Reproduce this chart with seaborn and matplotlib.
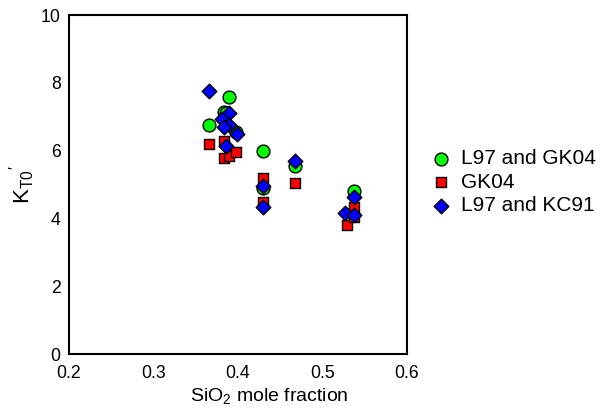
import matplotlib
matplotlib.use("Agg")
import matplotlib.pyplot as plt
import seaborn as sns
import pandas as pd

# Data
green_x = [0.366, 0.383, 0.386, 0.389, 0.398, 0.430, 0.430, 0.467, 0.537]
green_y = [6.75, 7.15, 7.10, 7.60, 6.55, 6.00, 4.90, 5.55, 4.80]

red_x = [0.366, 0.383, 0.383, 0.389, 0.398, 0.430, 0.430, 0.467, 0.529, 0.537, 0.537]
red_y = [6.20, 6.30, 5.80, 5.85, 5.95, 5.20, 4.50, 5.05, 3.82, 4.35, 4.05]

blue_x = [0.366, 0.389, 0.381, 0.389, 0.383, 0.399, 0.386, 0.430, 0.430, 0.467, 0.537, 0.527, 0.537]
blue_y = [7.75, 7.10, 6.95, 6.75, 6.70, 6.50, 6.15, 4.95, 4.35, 5.70, 4.65, 4.15, 4.10]

series = ["L97 and GK04", "GK04", "L97 and KC91"]
colors = ["#00ff00", "#ff0000", "#0000ff"]
markers = ["o", "s", "D"]
sizes = [85, 58, 55]

x_ticks = [0.2, 0.3, 0.4, 0.5, 0.6]
y_ticks = [0, 2, 4, 6, 8, 10]

sns.set_style("white")
plt.rcParams["font.family"] = ["Liberation Sans", "DejaVu Sans"]
plt.rcParams["mathtext.fontset"] = "custom"
plt.rcParams["mathtext.rm"] = "Liberation Sans"
plt.rcParams["mathtext.it"] = "Liberation Sans"
plt.rcParams["text.color"] = "black"
plt.rcParams["axes.labelcolor"] = "black"
plt.rcParams["xtick.color"] = "black"
plt.rcParams["ytick.color"] = "black"

fig = plt.figure(figsize=(6.11, 4.09), dpi=100)
ax = fig.add_axes([0.113, 0.134, 0.553, 0.829])

for xs, ys, name, c, m, s in zip([green_x, red_x, blue_x], [green_y, red_y, blue_y],
                                  series, colors, markers, sizes):
    df = pd.DataFrame({"x": xs, "y": ys})
    sns.scatterplot(data=df, x="x", y="y", ax=ax, color=c, marker=m, s=s,
                    edgecolor="black", linewidth=1.0, label=name, zorder=3)

ax.set_xlim(0.2, 0.6)
ax.set_ylim(0, 10)
ax.set_xticks(x_ticks)
ax.set_xticklabels([f"{v:g}" for v in x_ticks])
ax.set_yticks(y_ticks)
ax.set_yticklabels([str(v) for v in y_ticks])
ax.tick_params(axis="x", length=0, labelsize=12.7, pad=8)
ax.tick_params(axis="y", length=0, labelsize=12.7, pad=6)
for sp in ax.spines.values():
    sp.set_visible(True)
    sp.set_color("black")
    sp.set_linewidth(1.5)

ax.set_xlabel("SiO$_2$ mole fraction", fontsize=14)
ax.xaxis.set_label_coords(0.594, -0.095)
ax.set_ylabel(r"K$_{\mathrm{T0}}$$^{\prime}$", fontsize=16, labelpad=3)

leg = ax.legend(loc="center left", bbox_to_anchor=(1.045, 0.507), frameon=False,
                fontsize=15, handletextpad=0.45, labelspacing=0.22,
                borderaxespad=0.0, handlelength=1.0)

fig.savefig("out.png", dpi=100)
